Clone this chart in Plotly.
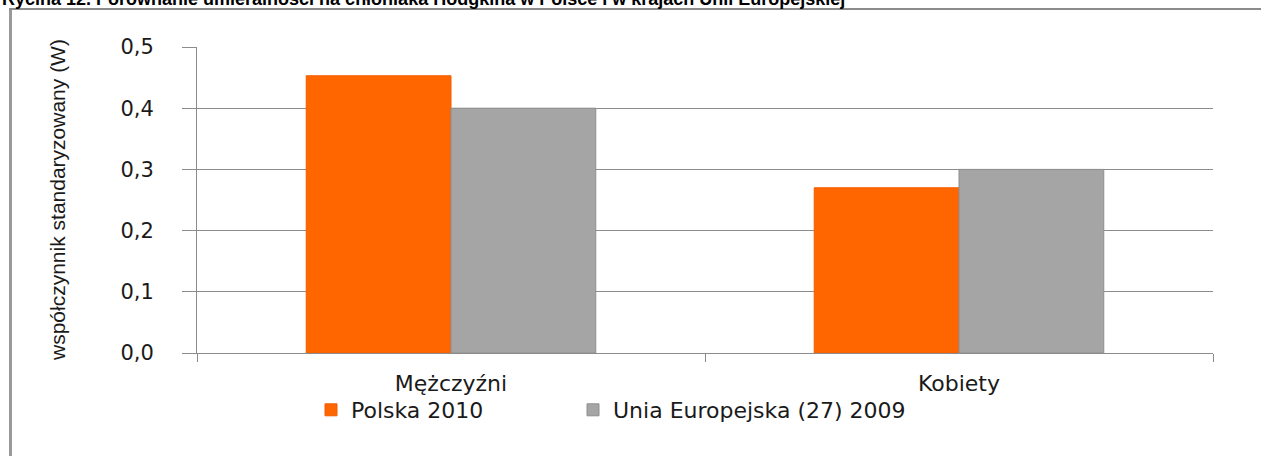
import plotly.graph_objects as go

# Data
categories = ["Mężczyźni", "Kobiety"]
polska_2010 = [0.453, 0.27]
ue27_2009 = [0.40, 0.30]
series_names = ["Polska 2010", "Unia Europejska (27) 2009"]
y_ticks = [0.0, 0.1, 0.2, 0.3, 0.4, 0.5]
title_text = ("Rycina 12. Porównanie umieralności na chłoniaka Hodgkina "
              "w Polsce i w krajach Unii Europejskiej")
y_title = "współczynnik standaryzowany (W)"

# Canvas and plot-area geometry (pixels)
W, H = 1261, 456
L, R, T, B = 197, 48, 47, 103
PW, PH = W - L - R, H - T - B


def px_x(p):
    return (p - L) / PW


def px_y(p):
    return (H - B - p) / PH


ORANGE = "#FF6600"
GREY = "#A5A5A5"
AXIS = "#8C8C8C"
FRAME = "#999999"
TXT = "#1a1a1a"

fig = go.Figure()
fig.add_trace(go.Bar(
    x=categories, y=polska_2010, name=series_names[0], legend="legend",
    marker=dict(color=ORANGE, line=dict(color="#F05F00", width=1)),
))
fig.add_trace(go.Bar(
    x=categories, y=ue27_2009, name=series_names[1], legend="legend2",
    marker=dict(color=GREY, line=dict(color="#8E8E8E", width=1)),
))

legend_font = dict(family="DejaVu Sans", size=22, color=TXT)

fig.update_layout(
    width=W, height=H,
    margin=dict(l=L, r=R, t=T, b=B, autoexpand=False),
    paper_bgcolor="white", plot_bgcolor="white",
    barmode="group", bargap=0.43, bargroupgap=0,
    separators=", ",
    showlegend=True,
    legend=dict(
        orientation="h", x=px_x(311), xanchor="left",
        y=px_y(410), yanchor="middle",
        font=legend_font, bgcolor="rgba(0,0,0,0)",
    ),
    legend2=dict(
        orientation="h", x=px_x(573), xanchor="left",
        y=px_y(410), yanchor="middle",
        font=legend_font, bgcolor="rgba(0,0,0,0)",
    ),
    xaxis=dict(
        showline=True, linecolor=AXIS, linewidth=1,
        ticks="outside", tickson="boundaries", ticklen=8, tickcolor=AXIS,
        showgrid=False,
        tickfont=dict(family="DejaVu Sans", size=22, color=TXT),
        ticklabelstandoff=11,
    ),
    yaxis=dict(
        range=[0, 0.5], tickvals=y_ticks, tickformat=".1f",
        showline=True, linecolor=AXIS, linewidth=1,
        showgrid=True, gridcolor=AXIS, gridwidth=1,
        ticks="outside", ticklen=14, tickcolor=AXIS,
        tickfont=dict(family="DejaVu Sans", size=21, color=TXT),
        ticklabelstandoff=24, zeroline=False,
    ),
)

# Vertical axis title
fig.add_annotation(
    text=y_title, textangle=-90, showarrow=False,
    xref="paper", yref="paper", x=px_x(57), y=px_y(200),
    xanchor="center", yanchor="middle",
    font=dict(family="Liberation Sans", size=21, color=TXT),
)

# Figure caption running off the top edge
fig.add_annotation(
    text=f"<b>{title_text}</b>", showarrow=False,
    xref="paper", yref="paper", x=px_x(0), y=px_y(11),
    xanchor="left", yanchor="bottom",
    font=dict(family="Liberation Sans", size=18, color="black"),
)

# Chart frame: left and top border lines
fig.add_shape(type="line", xref="paper", yref="paper",
              x0=px_x(10.5), x1=px_x(10.5), y0=px_y(9), y1=px_y(H + 2),
              line=dict(color=FRAME, width=3))
fig.add_shape(type="line", xref="paper", yref="paper",
              x0=px_x(9), x1=px_x(W + 2), y0=px_y(9), y1=px_y(9),
              line=dict(color=AXIS, width=2))

fig.write_html("out.html")
